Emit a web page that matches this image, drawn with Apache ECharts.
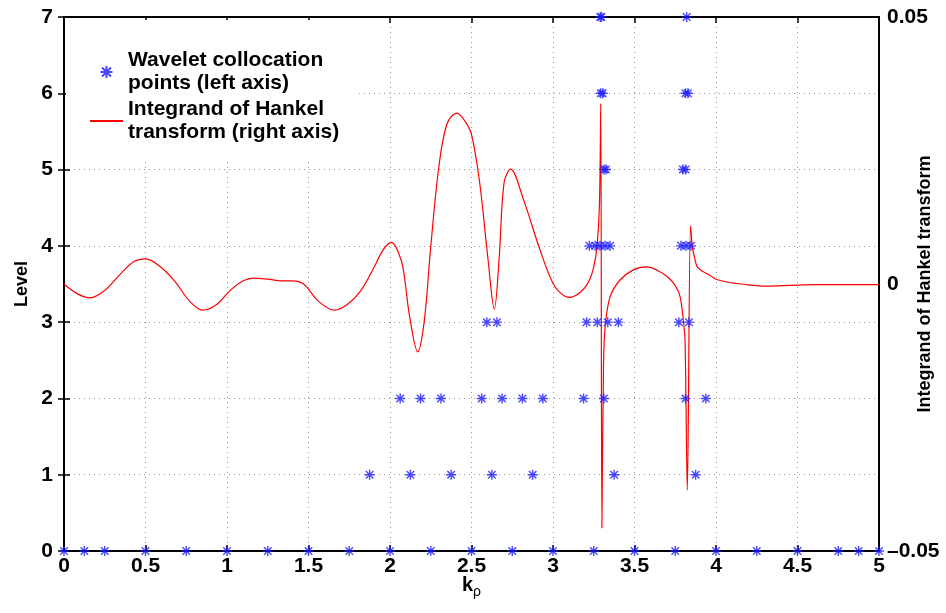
<!DOCTYPE html>
<html>
<head>
<meta charset="utf-8">
<script src="https://cdn.jsdelivr.net/npm/echarts@6/dist/echarts.min.js"></script>
<style>
html, body { margin: 0; padding: 0; background: #fff; }
#chart { width: 946px; height: 613px; }
</style>
</head>
<body>
<div id="chart"></div>
<script>
// collocation points per level (k_rho positions)
var level0K = [0, 0.125, 0.25, 0.5, 0.75, 1, 1.25, 1.5, 1.75, 2, 2.25, 2.5, 2.75, 3, 3.25, 3.5, 3.75, 4, 4.25, 4.5, 4.75, 4.875, 5];
var level1K = [1.875, 2.125, 2.375, 2.625, 2.875, 3.375, 3.875];
var level2K = [2.0625, 2.1875, 2.3125, 2.5625, 2.6875, 2.8125, 2.9375, 3.1875, 3.3125, 3.8125, 3.9375];
var level3K = [2.594, 2.656, 3.206, 3.272, 3.336, 3.401, 3.772, 3.834];
var level4K = [3.223, 3.258, 3.288, 3.319, 3.35, 3.785, 3.816, 3.847];
var level5K = [3.313, 3.325, 3.797, 3.813];
var level6K = [3.293, 3.305, 3.813, 3.828];
var level7K = [3.29, 3.297, 3.82];
var levels = [level0K, level1K, level2K, level3K, level4K, level5K, level6K, level7K];

// integrand of Hankel transform (right axis)
var curveK = [0, 0.08, 0.16, 0.25, 0.35, 0.43, 0.5, 0.58, 0.68, 0.77, 0.85, 0.93, 1.02, 1.1, 1.16, 1.25, 1.33, 1.4, 1.47, 1.56, 1.66, 1.74, 1.82, 1.9, 1.96, 2.01, 2.05, 2.08, 2.12, 2.17, 2.21, 2.25, 2.3, 2.35, 2.41, 2.46, 2.5, 2.55, 2.6, 2.64, 2.67, 2.7, 2.74, 2.82, 2.92, 3, 3.05, 3.1, 3.17, 3.22, 3.25, 3.27, 3.285, 3.293, 3.3, 3.31, 3.32, 3.35, 3.41, 3.49, 3.575, 3.65, 3.7, 3.75, 3.78, 3.8, 3.81, 3.824, 3.844, 3.855, 3.865, 3.89, 3.96, 4, 4.1, 4.15, 4.31, 4.6, 5];
var curveV = [0, -0.0018, -0.0026, -0.0012, 0.002, 0.0042, 0.0047, 0.0035, 0.0005, -0.0032, -0.0049, -0.004, -0.0012, 0.0006, 0.0011, 0.0009, 0.0006, 0.0006, 0, -0.0032, -0.0049, -0.0038, -0.0013, 0.003, 0.0065, 0.0078, 0.006, 0.003, -0.006, -0.0127, -0.007, 0.007, 0.022, 0.03, 0.032, 0.0305, 0.028, 0.019, 0.005, -0.0047, 0.005, 0.019, 0.0215, 0.0157, 0.0064, 0.0001, -0.0018, -0.0025, -0.0015, 0.0005, 0.0032, 0.007, 0.015, 0.0338, -0.0457, -0.015, -0.008, -0.0024, 0.0007, 0.0026, 0.0032, 0.0024, 0.0014, -0.0003, -0.0024, -0.007, -0.0105, -0.0386, 0.0109, 0.007, 0.0054, 0.003, 0.0017, 0.0009, 0.0002, 0, -0.0004, -0.0001, -0.0001];

var pointsName = 'Wavelet collocation\npoints (left axis)';
var curveName = 'Integrand of Hankel\ntransform (right axis)';
var font = 'Liberation Sans';
var asterisk = 'path://M0,-10L0,10M-10,0L10,0M-7.5,-7.5L7.5,7.5M-7.5,7.5L7.5,-7.5';

var pointData = [];
for (var lv = 0; lv < levels.length; lv++) {
	for (var i = 0; i < levels[lv].length; i++) {
		pointData.push([levels[lv][i], lv]);
	}
}
var curveData = [];
for (var j = 0; j < curveK.length; j++) {
	curveData.push([curveK[j], curveV[j]]);
}

var axisLine = { show: true, onZero: false, lineStyle: { color: '#000', width: 2 } };
var tickStyle = { show: true, inside: true, length: 6, lineStyle: { color: '#000', width: 1.5 } };
var labelStyle = { color: '#000', fontSize: 21, fontWeight: 'bold', fontFamily: font };
var gridLine = { show: true, lineStyle: { color: '#999', type: [1, 4], width: 1 } };

var option = {
	animation: false,
	backgroundColor: '#fff',
	grid: { left: 64, right: 67, top: 17, bottom: 62, outerBoundsMode: 'none', containLabel: false },
	legend: {
		orient: 'vertical',
		left: 66,
		top: 20,
		padding: [29, 20, 14, 24],
		backgroundColor: '#fff',
		itemWidth: 33,
		itemHeight: 12,
		itemGap: 3,
		textStyle: { color: '#000', fontSize: 21, fontWeight: 'bold', fontFamily: font, lineHeight: 23 },
		data: [
			{ name: pointsName },
			{ name: curveName, icon: 'path://M0,0H33V2H0Z' }
		]
	},
	xAxis: [{
		type: 'value', position: 'bottom', min: 0, max: 5, interval: 0.5,
		axisLine: axisLine,
		axisTick: tickStyle,
		axisLabel: Object.assign({ margin: 5 }, labelStyle),
		splitLine: gridLine,
		name: '{k|k}{r|ρ}',
		nameLocation: 'middle',
		nameGap: 20,
		nameMoveOverlap: false,
		nameTextStyle: {
			rich: {
				k: { fontSize: 20, fontWeight: 'bold', fontFamily: font, color: '#000' },
				r: { fontSize: 14, fontFamily: font, color: '#000', padding: [14, 0, 0, 0] }
			}
		}
	}, {
		type: 'value', position: 'top', min: 0, max: 5, interval: 0.5,
		axisLine: axisLine,
		axisTick: tickStyle,
		axisLabel: { show: false },
		splitLine: { show: false }
	}],
	yAxis: [{
		type: 'value', position: 'left', min: 0, max: 7, interval: 1,
		axisLine: axisLine,
		axisTick: tickStyle,
		axisLabel: Object.assign({ margin: 11 }, labelStyle),
		splitLine: gridLine,
		name: 'Level',
		nameLocation: 'middle',
		nameGap: 33,
		nameMoveOverlap: false,
		nameTextStyle: { color: '#000', fontSize: 18, fontWeight: 'bold', fontFamily: font }
	}, {
		type: 'value', position: 'right', min: -0.05, max: 0.05, interval: 0.05,
		axisLine: axisLine,
		axisTick: { show: false },
		axisLabel: Object.assign({
			margin: 8,
			formatter: function(v) {
				if (Math.abs(v) < 1e-9) return '0';
				return v < 0 ? '\u2013' + Math.abs(v).toFixed(2) : v.toFixed(2);
			}
		}, labelStyle),
		splitLine: { show: false },
		name: 'Integrand of Hankel transform',
		nameLocation: 'middle',
		nameGap: 37,
		nameMoveOverlap: false,
		nameTextStyle: { color: '#000', fontSize: 18, fontWeight: 'bold', fontFamily: font }
	}, {
		type: 'value', position: 'right', min: 0, max: 7, interval: 1,
		axisLine: { show: false },
		axisTick: tickStyle,
		axisLabel: { show: false },
		splitLine: { show: false }
	}],
	series: [{
		name: curveName,
		type: 'line',
		xAxisIndex: 0,
		yAxisIndex: 1,
		data: curveData,
		symbol: 'none',
		smooth: 0.35,
		lineStyle: { color: '#ff0000', width: 1.2 },
		itemStyle: { color: '#ff0000' },
		z: 2
	}, {
		name: pointsName,
		type: 'scatter',
		xAxisIndex: 0,
		yAxisIndex: 0,
		data: pointData,
		symbol: asterisk,
		symbolSize: 10,
		itemStyle: { color: '#1a1aff', borderColor: '#1a1aff', borderWidth: 1.4 },
		z: 3
	}]
};

echarts.init(document.getElementById('chart')).setOption(option);
</script>
</body>
</html>
